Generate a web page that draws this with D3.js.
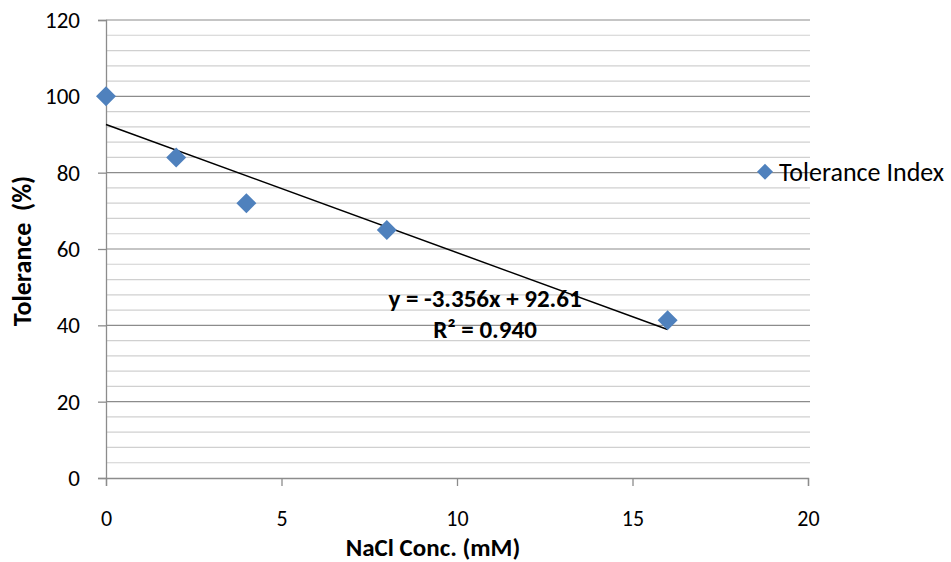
<!DOCTYPE html>
<html>
<head>
<meta charset="utf-8">
<script src="https://cdn.jsdelivr.net/npm/d3@7"></script>
<style>
  body { margin: 0; background: #fff; }
  svg text { font-family: Carlito, Calibri, Lato, sans-serif; fill: #000; }
</style>
</head>
<body>
<div id="chart"></div>
<script>
// NaCl concentration (mM) and tolerance index (%)
const conc = [0, 2, 4, 8, 16];
const tolerance = [100, 84, 72, 65, 41.3];
const seriesName = "Tolerance Index";
// linear trendline as shown on the chart
const trendSlope = -3.356;
const trendIntercept = 92.61;
const trendLabel = ["y = -3.356x + 92.61", "R\u00b2 = 0.940"];
const xTicks = [0, 5, 10, 15, 20];
const yTicks = [0, 20, 40, 60, 80, 100, 120];

const width = 951;
const height = 562;
const margin = {top: 20, right: 143, bottom: 84, left: 106};

const svg = d3.select('#chart').append('svg')
    .attr('width', width)
    .attr('height', height);

const x = d3.scaleLinear().domain([0, 20]).range([margin.left, width - margin.right]);
const y = d3.scaleLinear().domain([0, 120]).range([height - margin.bottom, margin.top]);

// 网格线
const grid = svg.append('g').attr('class', 'grid');
grid.selectAll('.minor')
    .data(d3.range(0, 121, 4).filter(v => v % 20 != 0))
    .enter().append('line')
    .attr('x1', x(0)).attr('x2', x(20) + 2)
    .attr('y1', d => y(d)).attr('y2', d => y(d))
    .attr('stroke', '#d0d0d0')
    .attr('stroke-width', 1.2);
grid.selectAll('.major')
    .data(yTicks.filter(v => v > 0))
    .enter().append('line')
    .attr('x1', x(0)).attr('x2', x(20) + 2)
    .attr('y1', d => y(d)).attr('y2', d => y(d))
    .attr('stroke', '#8c8c8c')
    .attr('stroke-width', 1.2);

// 坐标轴
const xAxis = svg.append('g')
    .attr('transform', `translate(0,${y(0)})`)
    .call(d3.axisBottom(x).tickValues(xTicks).tickSize(8).tickPadding(22));
const yAxis = svg.append('g')
    .attr('transform', `translate(${x(0)},0)`)
    .call(d3.axisLeft(y).tickValues(yTicks).tickSize(8).tickPadding(18));
[xAxis, yAxis].forEach(a => {
    a.select('.domain').attr('stroke', '#8c8c8c').attr('stroke-width', 1.3);
    a.selectAll('.tick line').attr('stroke', '#8c8c8c').attr('stroke-width', 1.3);
    a.selectAll('.tick text').style('font-size', '23px').attr('fill', '#000');
});
xAxis.selectAll('.tick text').attr('dy', '0.35em').attr('y', 40).style('font-size', '22px');

// 轴标题
svg.append('text')
    .attr('x', 433).attr('y', 556)
    .attr('text-anchor', 'middle')
    .style('font-size', '25px').style('font-weight', 'bold')
    .text('NaCl Conc. (mM)');
svg.append('text')
    .attr('transform', `translate(31,${(y(0) + y(120)) / 2 + 2}) rotate(-90)`)
    .attr('text-anchor', 'middle')
    .style('font-size', '26px').style('font-weight', 'bold')
    .text('Tolerance\u00a0\u00a0(%)');

// 趋势线
const lineGenerator = d3.line().x(d => x(d)).y(d => y(trendSlope * d + trendIntercept));
svg.append('path')
    .attr('d', lineGenerator([conc[0], conc[conc.length - 1]]))
    .attr('stroke', '#000')
    .attr('stroke-width', 1.5)
    .attr('fill', 'none');

// 数据点
const diamond = d3.symbol(d3.symbolSquare, 200);
svg.append('g').selectAll('.pt')
    .data(conc.map((c, i) => ({x: c, y: tolerance[i]})))
    .enter().append('path')
    .attr('d', diamond)
    .attr('transform', d => `translate(${x(d.x)},${y(d.y)}) rotate(45)`)
    .attr('fill', '#4f81bd');

// 趋势线标签
svg.append('g').selectAll('text')
    .data(trendLabel)
    .enter().append('text')
    .attr('x', 485)
    .attr('y', (d, i) => 307 + i * 31)
    .attr('text-anchor', 'middle')
    .style('font-size', '25px').style('font-weight', 'bold')
    .text(d => d);

// 图例
const legend = svg.append('g').attr('transform', `translate(765,${y(80) - 1})`);
legend.append('path')
    .attr('d', d3.symbol(d3.symbolSquare, 128))
    .attr('transform', 'rotate(45)')
    .attr('fill', '#4f81bd');
legend.append('text')
    .attr('x', 14).attr('dy', '0.35em')
    .style('font-size', '26px')
    .text(seriesName);
</script>
</body>
</html>
